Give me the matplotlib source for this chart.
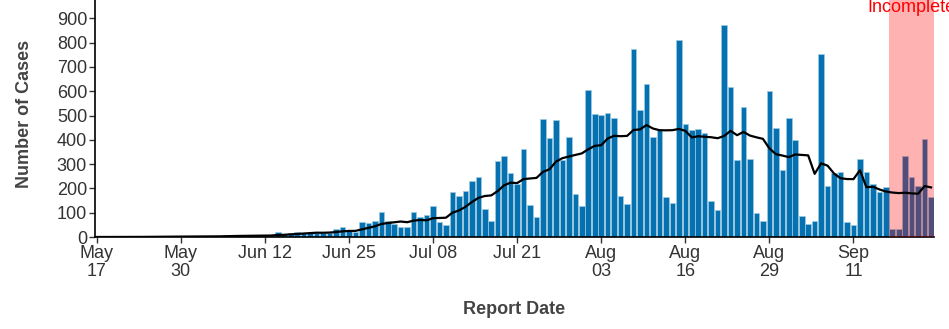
import matplotlib
matplotlib.use("Agg")
import matplotlib.pyplot as plt
import matplotlib.dates as mdates
import pandas as pd
import numpy as np

plt.rcParams['font.family'] = ['Liberation Sans', 'DejaVu Sans']

start_date = "2020-05-17"
end_date = "2020-09-23"
incomplete_start = "2020-09-17"

cases = [
    # May 17 - May 31
    0, 0, 0, 1, 0, 1, 0, 1, 2, 1, 2, 2, 1, 3, 2,
    # Jun 1 - Jun 30
    2, 3, 2, 3, 4, 8, 4, 7, 6, 5, 9, 7, 5, 20, 12,
    18, 20, 18, 18, 18, 18, 18, 33, 40, 30, 19, 62, 59, 64, 101,
    # Jul 1 - Jul 31
    67, 52, 41, 42, 104, 83, 92, 127, 60, 48, 186, 167, 188, 230, 247,
    115, 65, 311, 335, 263, 217, 362, 133, 82, 485, 408, 483, 318, 410, 178, 126,
    # Aug 1 - Aug 31
    604, 506, 503, 510, 488, 167, 134, 775, 522, 629, 410, 440, 163, 138, 811,
    467, 440, 443, 427, 148, 110, 874, 616, 315, 536, 323, 97, 67, 599, 450, 275,
    # Sep 1 - Sep 23
    490, 400, 85, 52, 67, 753, 208, 262, 266, 62, 49, 323, 266, 219, 186,
    205, 33, 33, 333, 247, 211, 405, 166,
]

tick_dates = ["2020-05-17", "2020-05-30", "2020-06-12", "2020-06-25", "2020-07-08",
              "2020-07-21", "2020-08-03", "2020-08-16", "2020-08-29", "2020-09-11"]
tick_labels = ["May\n17", "May\n30", "Jun 12", "Jun 25", "Jul 08",
               "Jul 21", "Aug\n03", "Aug\n16", "Aug\n29", "Sep\n11"]
y_ticks = [0, 100, 200, 300, 400, 500, 600, 700, 800, 900]

dates = pd.date_range(start_date, end_date, freq="D")
s = pd.Series(cases, index=dates)
avg = s.rolling(7, min_periods=1).mean()

W, H = 949, 329
FS = 13
fig = plt.figure(figsize=(W / 100, H / 100), dpi=100)
left_px, right_px, bottom_px, top_px = 95, 934, 237, -6
ax = fig.add_axes([left_px / W, (H - bottom_px) / H,
                   (right_px - left_px) / W, (bottom_px - top_px) / H])

x = mdates.date2num(dates)
ax.bar(x, s.values, width=0.86, color="#0571b0", edgecolor="#9ecae1",
       linewidth=0.5, zorder=2)

inc0 = mdates.date2num(pd.Timestamp(incomplete_start)) - 0.5
inc1 = mdates.date2num(pd.Timestamp(end_date)) + 0.5
ax.axvspan(inc0, inc1, color="red", alpha=0.3, lw=0, zorder=3)
ax.plot(x, avg.values, color="black", lw=1.6, zorder=4)
ax.text((inc0 + inc1) / 2, 925, "Incomplete", color="red", fontsize=FS,
        ha="center", va="baseline", zorder=5, clip_on=False)

ax.set_xlim(x[0] - 0.26, x[-1] + 0.45)
ax.set_ylim(0, 1000)

ax.set_xticks(mdates.date2num(pd.to_datetime(tick_dates)))
ax.set_xticklabels(tick_labels, linespacing=1.05)
ax.set_yticks(y_ticks)
ax.set_yticklabels([str(v) for v in y_ticks])

for sp in ["top", "right"]:
    ax.spines[sp].set_visible(False)
for sp in ["left", "bottom"]:
    ax.spines[sp].set_linewidth(1.2)
    ax.spines[sp].set_color("black")
ax.tick_params(axis="both", length=4.5, width=1, color="#333333",
               labelsize=FS, labelcolor="#333333")
ax.tick_params(axis="x", pad=1.5)
ax.tick_params(axis="y", pad=1.2)
for lab in ax.get_xticklabels():
    lab.set_verticalalignment("top")

fig.text(25 / W, 1 - 114 / H, "Number of Cases", rotation=90, fontsize=FS,
         fontweight="bold", color="#444444", ha="center", va="center")
fig.text(514 / W, 1 - 309 / H, "Report Date", fontsize=FS,
         fontweight="bold", color="#444444", ha="center", va="center")

fig.savefig("out.png", dpi=100)
